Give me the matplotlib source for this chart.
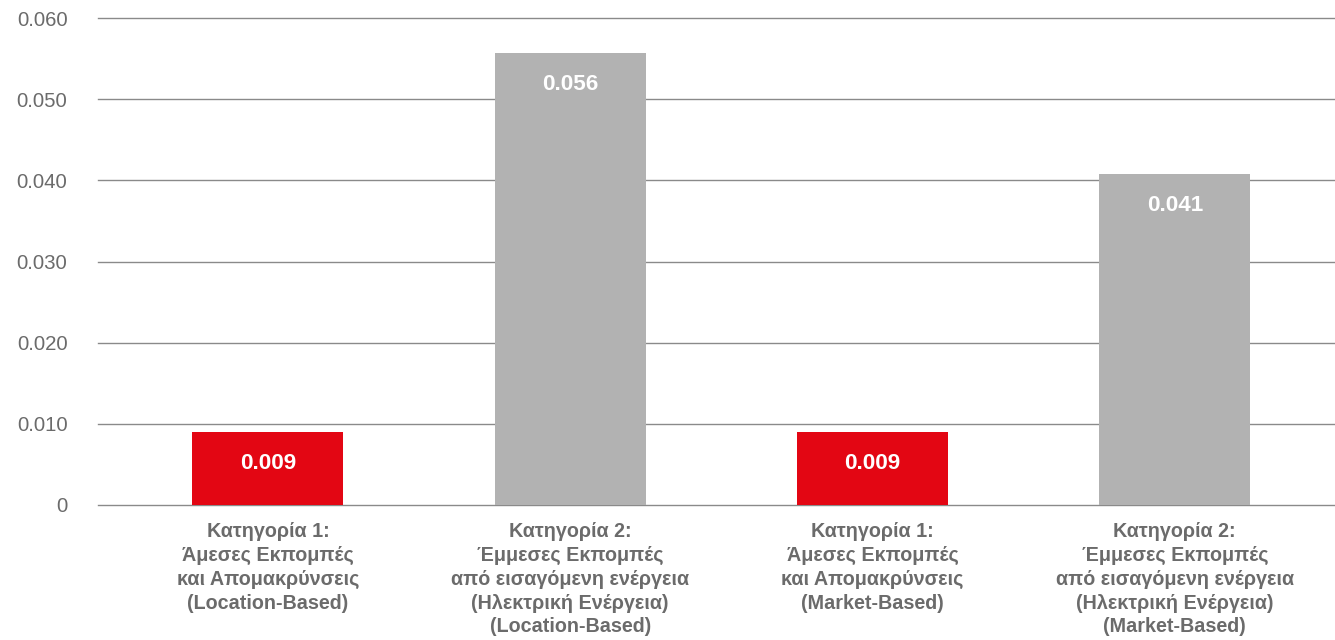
import matplotlib
matplotlib.use("Agg")
import matplotlib.pyplot as plt
from matplotlib.ticker import FixedLocator

categories = [
    "Κατηγορία 1:\nΆμεσες Εκπομπές\nκαι Απομακρύνσεις\n(Location-Based)",
    "Κατηγορία 2:\nΈμμεσες Εκπομπές\nαπό εισαγόμενη ενέργεια\n(Ηλεκτρική Ενέργεια)\n(Location-Based)",
    "Κατηγορία 1:\nΆμεσες Εκπομπές\nκαι Απομακρύνσεις\n(Market-Based)",
    "Κατηγορία 2:\nΈμμεσες Εκπομπές\nαπό εισαγόμενη ενέργεια\n(Ηλεκτρική Ενέργεια)\n(Market-Based)",
]
values = [0.009, 0.0557, 0.009, 0.0408]
value_labels = ["0.009", "0.056", "0.009", "0.041"]
yticks = [0, 0.01, 0.02, 0.03, 0.04, 0.05, 0.06]
ytick_labels = ["0", "0.010", "0.020", "0.030", "0.040", "0.050", "0.060"]

RED = "#E30613"
GRAY = "#B2B2B2"
colors = [RED, GRAY, RED, GRAY]

plt.rcParams['font.family'] = ['Liberation Sans', 'DejaVu Sans']

fig = plt.figure(figsize=(13.35, 6.4), dpi=100)
ax = fig.add_axes([98/1335, 1-505/640, 1-98/1335, (505-18)/640])

x = list(range(len(categories)))
for t in yticks:
    ax.axhline(t, color="#8a8a8a", linewidth=1.0, zorder=0, clip_on=False)
bars = ax.bar(x, values, width=0.5, color=colors, zorder=2)

ax.set_xlim(-0.562, 3.53)
ax.set_ylim(0, 0.06)
ax.yaxis.set_major_locator(FixedLocator(yticks))
ax.set_yticklabels(ytick_labels)
ax.set_xticks(x)
ax.set_xticklabels(categories, fontweight="bold", color="#6b6b6b", fontsize=14.2,
                   linespacing=1.33, va="top")
ax.tick_params(axis="y", length=0, pad=22, labelsize=14.7, labelcolor="#6b6b6b")
ax.tick_params(axis="x", length=0, pad=12)
for s in ax.spines.values():
    s.set_visible(False)

for xi, v, lab in zip(x, values, value_labels):
    ax.annotate(lab, (xi, v), xytext=(0, -32), textcoords="offset pixels",
                ha="center", va="center", color="white", fontweight="bold",
                fontsize=16.2, zorder=3)

fig.savefig("out.png", dpi=100)
